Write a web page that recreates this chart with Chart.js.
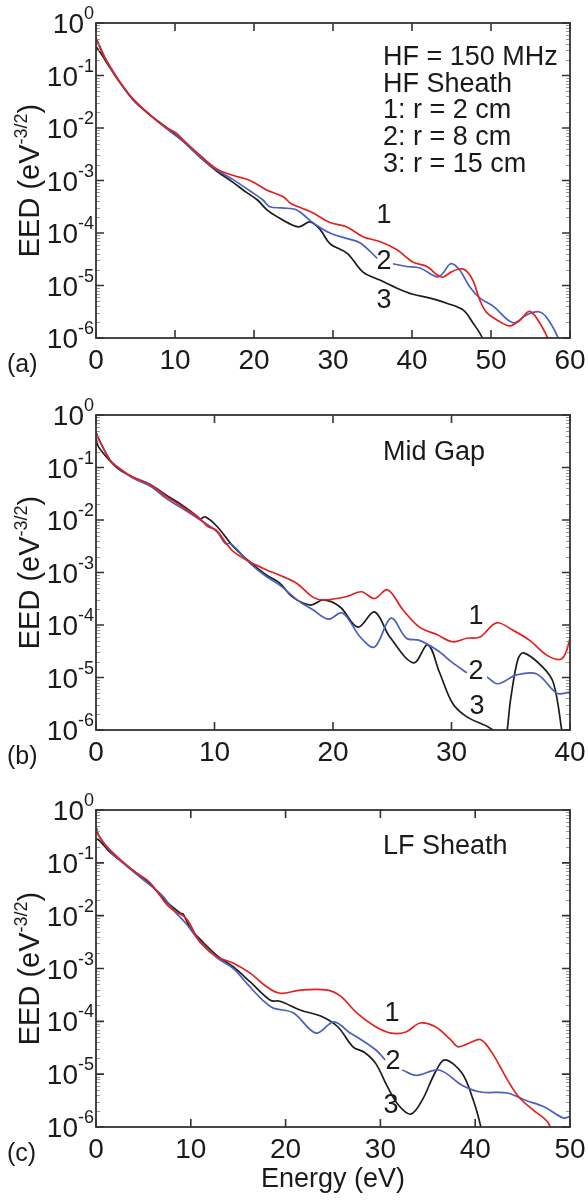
<!DOCTYPE html>
<html><head><meta charset="utf-8">
<script src="https://cdn.jsdelivr.net/npm/chart.js@4.4.0/dist/chart.umd.min.js"></script>
<style>
body{margin:0;background:#fff;width:588px;height:1200px;position:relative;overflow:hidden}
canvas{position:absolute;left:0}
</style>
</head><body>
<canvas id="ca" width="588" height="400" style="top:0px"></canvas>
<canvas id="cb" width="588" height="410" style="top:390px"></canvas>
<canvas id="cc" width="588" height="410" style="top:790px"></canvas>
<script>
// ---------- tick labels ----------
const xTicksA = [0, 10, 20, 30, 40, 50, 60];
const xTicksB = [0, 10, 20, 30, 40];
const xTicksC = [0, 10, 20, 30, 40, 50];
const yExponents = [0, -1, -2, -3, -4, -5, -6];

// ---------- panel (a): HF sheath ----------
const aRedE = [0,0.5,1,1.8,3,4.7,6.8,9,10.2,11,13.2,15.3,17.3,19.5,21.6,23.7,24.6,26,27.5,29.6,31.7,33.8,36,38.1,40.1,41.9,43.2,43.9,44.8,45.8,46.7,47.7,48.6,49.5,51.5,52.4,53.7,54.7,55.3,56.2,57.1,57.6];
const aRedV = [5.25e-1,3.55e-1,2.4e-1,1.45e-1,7.6e-2,3.55e-2,1.78e-2,1.0e-2,7.9e-3,6.0e-3,3.0e-3,1.66e-3,1.26e-3,1.0e-3,6.6e-4,4.9e-4,3.7e-4,3.0e-4,2.4e-4,1.58e-4,1.32e-4,8.5e-5,6.8e-5,4.8e-5,2.8e-5,2.3e-5,1.58e-5,1.45e-5,1.74e-5,2.04e-5,2.0e-5,1.26e-5,5.2e-6,3.0e-6,1.9e-6,1.7e-6,2.2e-6,3.16e-6,2.95e-6,1.9e-6,1.05e-6,5e-7];
const aBlueE = [0,0.5,1,1.8,3,4.7,6.8,9,11,13.2,15.3,17.3,19.5,21.1,22,23.5,25.4,27.5,29.6,31.7,33.4,35.6,36.5,37.6,39.3,41,43.2,43.9,44.9,46,47.3,48.6,50.3,52.8,54.5,56,57,58.5,59];
const aBlueV = [5.0e-1,3.4e-1,2.35e-1,1.45e-1,7.6e-2,3.4e-2,1.78e-2,9.5e-3,5.6e-3,2.8e-3,1.58e-3,1.05e-3,6.3e-4,4.3e-4,3.16e-4,3.0e-4,2.75e-4,1.55e-4,1.0e-4,7.9e-5,6.5e-5,3.3e-5,null,2.6e-5,2.3e-5,2.15e-5,1.45e-5,1.7e-5,2.6e-5,2.0e-5,9.5e-6,5.75e-6,4.0e-6,1.95e-6,2.75e-6,3.16e-6,2.5e-6,1.0e-6,5e-7];
const aBlackE = [0,0.5,1,1.8,3,4.7,6.8,9,11,13.2,15.3,17.3,19,20.4,21.6,22.9,24.9,25.8,27.1,28.4,29.6,31.8,33.8,36,38.1,40.1,42.3,44.4,46.5,47.7,48.9,49.3];
const aBlackV = [3.55e-1,2.8e-1,2.15e-1,1.38e-1,7.4e-2,3.5e-2,1.8e-2,1.0e-2,5.6e-3,2.75e-3,1.5e-3,9.3e-4,6.0e-4,4.3e-4,2.8e-4,2.05e-4,1.4e-4,1.32e-4,1.62e-4,1.15e-4,6.3e-5,4.1e-5,1.8e-5,1.26e-5,8.9e-6,6.8e-6,5.75e-6,4.6e-6,3.4e-6,1.95e-6,1.0e-6,5e-7];

// ---------- panel (b): mid gap ----------
const bRedE = [0,0.3,1.2,2,3.1,4.6,5.3,6,7.3,8.8,9.4,10.2,11,11.6,13,14.4,15.5,16.9,18.3,19.2,21.2,22.4,23.5,24.6,25.9,27.3,28.8,30.1,31.3,32.4,33.8,35.2,36.6,38,39.1,39.6,40];
const bRedV = [4.6e-1,3.2e-1,1.38e-1,9.5e-2,6.6e-2,4.7e-2,3.6e-2,2.75e-2,1.78e-2,1.05e-2,7.6e-3,6.3e-3,3.55e-3,2.5e-3,1.58e-3,1.12e-3,8.9e-4,6.3e-4,3.4e-4,3.0e-4,3.5e-4,4.3e-4,3.2e-4,4.7e-4,1.95e-4,9.1e-5,6.5e-5,4.8e-5,5.6e-5,5.9e-5,1.1e-4,7.9e-5,5.1e-5,2.7e-5,2.2e-5,2.8e-5,5.6e-5];
const bBlueE = [0,0.3,1.2,2,3.1,4.6,6,7.3,8.8,10.2,10.9,11.4,13,14.4,15.5,17.2,18.3,19.6,20.8,22.3,23.5,24.9,26.2,27.3,28.8,30.1,31.3,32,33,33.9,35.5,37.2,38.9,40];
const bBlueV = [4.8e-1,3.3e-1,1.38e-1,9.5e-2,6.3e-2,4.4e-2,2.5e-2,1.66e-2,1.0e-2,6.0e-3,3.6e-3,3.5e-3,1.5e-3,8.3e-4,5.75e-4,2.75e-4,1.95e-4,1.29e-4,1.7e-4,5.9e-5,3.8e-5,1.35e-4,5.6e-5,5.1e-5,3.3e-5,1.9e-5,1.23e-5,null,1.02e-5,7.6e-6,1.12e-5,1.17e-5,5.0e-6,5.25e-6];
const bBlackE = [0,0.2,1.2,2,3.1,4.6,6,7.3,8.5,8.8,9.2,10.2,11.6,13,14.4,15.5,16.6,18.1,19.2,20.6,22.1,23.5,24.8,26.8,28,29,30.1,31.3,33.5,34.4,35,35.6,36.1,37.7,38.6,39.3,39.5];
const bBlackV = [3.6e-1,2.5e-1,1.32e-1,9.0e-2,6.6e-2,4.7e-2,2.9e-2,1.9e-2,1.2e-2,1.05e-2,1.15e-2,7.6e-3,3.1e-3,1.58e-3,8.9e-4,6.3e-4,3.4e-4,2.4e-4,3.0e-4,2.2e-4,9.1e-5,1.78e-4,5.9e-5,1.9e-5,4.2e-5,1.23e-5,3.2e-6,1.78e-6,1.0e-6,5e-7,4.0e-6,2.2e-5,2.95e-5,1.58e-5,7.9e-6,1.0e-6,4e-7];

// ---------- panel (c): LF sheath ----------
const cRedE = [0,0.3,1.5,3.9,5.7,7.5,8.2,9.5,11,12.8,14.5,16.3,18,19.4,21.6,24.4,25.8,27.5,29.5,31.1,32.7,34.2,35.8,37.4,38.2,39.4,40.6,41.8,43.4,44.6,46.1,47.7,48.3];
const cRedV = [4.6e-1,3.2e-1,1.74e-1,7.2e-2,4.2e-2,1.6e-2,1.26e-2,8.9e-3,3.16e-3,1.66e-3,1.26e-3,8.1e-4,4.5e-4,3.4e-4,3.9e-4,3.9e-4,3.0e-4,1.45e-4,7.9e-5,6.0e-5,6.3e-5,9.3e-5,7.9e-5,4.5e-5,3.3e-5,3.9e-5,4.5e-5,2.5e-5,7.8e-6,3.7e-6,2.1e-6,1.2e-6,5e-7];
const cBlueE = [0,0.3,1.5,3.9,5.7,7,8.2,9.5,11,12.8,14.5,16,17.6,18.7,20.8,23.2,25.1,26.8,27.5,29.5,30.5,31.5,32.3,33.8,36.2,38.6,40.6,43.4,45.3,47.3,49.3,50];
const cBlueV = [5.0e-1,3.3e-1,1.66e-1,6.9e-2,3.8e-2,2.4e-2,1.26e-2,7.1e-3,3.16e-3,1.58e-3,1.0e-3,5.0e-4,2.5e-4,1.78e-4,1.45e-4,6.0e-5,9.8e-5,6.0e-5,5.1e-5,2.9e-5,1.86e-5,null,1.2e-5,9.5e-6,1.2e-5,6.2e-6,4.6e-6,4.4e-6,3.2e-6,2.4e-6,1.48e-6,1.58e-6];
const cBlackE = [0,0.5,1.5,3.9,5.7,6.8,7.5,8.9,9.2,10,11,12.8,14.5,16.3,18.4,19.4,21.6,23.7,25.5,27.1,28.3,29.5,30.7,31.9,33.2,34.4,35.8,36.8,38.6,39.8,40.6,41];
const cBlackV = [2.95e-1,2.5e-1,1.58e-1,7.2e-2,4.0e-2,2.4e-2,1.78e-2,1.12e-2,1.07e-2,5.6e-3,3.55e-3,1.74e-3,1.07e-3,5.5e-4,2.5e-4,2.4e-4,1.62e-4,1.26e-4,7.9e-5,3.3e-5,2.6e-5,1.6e-5,6.0e-6,2.6e-6,1.75e-6,3.2e-6,1.1e-5,1.86e-5,1.05e-5,3.2e-6,1.0e-6,4e-7];

// ---------- styling ----------
const RED = '#e3211f', BLUE = '#4a5fbf', BLACK = '#1c1c1c';
const FONT = '"Liberation Sans", Arial, Helvetica, sans-serif';

function pts(E, V) { return E.map((e, i) => ({ x: e, y: V[i] })); }

const axesPlugin = {
  id: 'axesFrame',
  afterDatasetsDraw(chart, args, o) {
    const ctx = chart.ctx, a = chart.chartArea, xs = chart.scales.x, ys = chart.scales.y;
    ctx.save();
    // minor y ticks
    ctx.strokeStyle = '#9a9a9a'; ctx.lineWidth = 1;
    for (let d = -6; d < 0; d++) {
      for (let m = 2; m <= 9; m++) {
        const py = Math.round(ys.getPixelForValue(m * Math.pow(10, d))) + 0.5;
        ctx.beginPath();
        ctx.moveTo(a.left, py); ctx.lineTo(a.left + 4, py);
        ctx.moveTo(a.right - 4, py); ctx.lineTo(a.right, py);
        ctx.stroke();
      }
    }
    // major ticks
    ctx.strokeStyle = '#333'; ctx.lineWidth = 1.6;
    yExponents.forEach(e => {
      const py = ys.getPixelForValue(Math.pow(10, e));
      ctx.beginPath();
      ctx.moveTo(a.left, py); ctx.lineTo(a.left + 8, py);
      ctx.moveTo(a.right - 8, py); ctx.lineTo(a.right, py);
      ctx.stroke();
    });
    o.xTicks.forEach(t => {
      const px = xs.getPixelForValue(t);
      ctx.beginPath();
      ctx.moveTo(px, a.bottom); ctx.lineTo(px, a.bottom - 8);
      ctx.moveTo(px, a.top); ctx.lineTo(px, a.top + 8);
      ctx.stroke();
    });
    // frame
    ctx.lineWidth = 1.8;
    ctx.strokeRect(a.left, a.top, a.right - a.left, a.bottom - a.top);

    ctx.fillStyle = '#1a1a1a';
    // x tick labels
    ctx.font = '28px ' + FONT; ctx.textAlign = 'center'; ctx.textBaseline = 'alphabetic';
    o.xTicks.forEach(t => {
      ctx.fillText(String(t), xs.getPixelForValue(t), a.bottom + 31);
    });
    // y tick labels 10^n
    yExponents.forEach(e => {
      const py = ys.getPixelForValue(Math.pow(10, e));
      const xr = a.left - 2;
      ctx.font = '18px ' + FONT; ctx.textAlign = 'right';
      const es = String(e);
      const ew = ctx.measureText(es).width;
      ctx.fillText(es, xr, py - 4);
      ctx.font = '28px ' + FONT;
      ctx.fillText('10', xr - ew, py + 10);
    });
    // y title (rotated)
    ctx.save();
    const cy = (a.top + a.bottom) / 2;
    ctx.translate(39, cy);
    ctx.rotate(-Math.PI / 2);
    ctx.textAlign = 'left';
    const main = 'EED (eV', sup = '-3/2', close = ')';
    ctx.font = '29px ' + FONT;
    const w1 = ctx.measureText(main).width, w3 = ctx.measureText(close).width;
    ctx.font = '18px ' + FONT;
    const w2 = ctx.measureText(sup).width;
    let x0 = -(w1 + w2 + w3) / 2;
    ctx.font = '29px ' + FONT; ctx.fillText(main, x0, 0);
    ctx.font = '18px ' + FONT; ctx.fillText(sup, x0 + w1, -12);
    ctx.font = '29px ' + FONT; ctx.fillText(close, x0 + w1 + w2, 0);
    ctx.restore();
    // panel letter
    ctx.font = '25px ' + FONT; ctx.textAlign = 'left';
    ctx.fillText(o.letter, 7, a.bottom + 34);
    // annotation text
    ctx.font = '27px ' + FONT; ctx.textAlign = 'left';
    o.notes.forEach(n => ctx.fillText(n.t, n.x, n.y));
    // curve labels
    ctx.textAlign = 'center'; ctx.textBaseline = 'middle';
    o.curveLabels.forEach(n => ctx.fillText(n.t, n.x, n.y));
    ctx.textBaseline = 'alphabetic';
    if (o.xTitle) {
      ctx.textAlign = 'center';
      ctx.fillText(o.xTitle, (a.left + a.right) / 2, a.bottom + 60);
    }
    ctx.restore();
  }
};

function ds(label, data, color) {
  return { label, data, borderColor: color, borderWidth: 1.7, pointRadius: 0, tension: 0.35,
           fill: false, spanGaps: false };
}

function makeChart(id, xMax, padTop, padBottom, series, o) {
  new Chart(document.getElementById(id), {
    type: 'line',
    data: { datasets: series },
    options: {
      responsive: false, animation: false, devicePixelRatio: 1,
      layout: { padding: { left: 96, right: 18, top: padTop, bottom: padBottom } },
      scales: {
        x: { type: 'linear', min: 0, max: xMax, display: false },
        y: { type: 'logarithmic', min: 1e-6, max: 1, display: false }
      },
      plugins: { legend: { display: false }, tooltip: { enabled: false }, axesFrame: o }
    },
    plugins: [axesPlugin]
  });
}

// panel a: canvas top 0, plot 23..338
makeChart('ca', 60, 23, 62, [
  ds('1: r = 2 cm', pts(aRedE, aRedV), RED),
  ds('2: r = 8 cm', pts(aBlueE, aBlueV), BLUE),
  ds('3: r = 15 cm', pts(aBlackE, aBlackV), BLACK)
], {
  xTicks: xTicksA, letter: '(a)',
  notes: [
    { t: 'HF = 150 MHz', x: 383, y: 65 },
    { t: 'HF Sheath', x: 383, y: 92 },
    { t: '1: r = 2 cm', x: 383, y: 118 },
    { t: '2: r = 8 cm', x: 383, y: 145 },
    { t: '3: r = 15 cm', x: 383, y: 172 }
  ],
  curveLabels: [ { t: '1', x: 384, y: 216 }, { t: '2', x: 384, y: 262 }, { t: '3', x: 384, y: 301 } ]
});

// panel b: canvas top 390, plot 415..730
makeChart('cb', 40, 25, 70, [
  ds('1', pts(bRedE, bRedV), RED),
  ds('2', pts(bBlueE, bBlueV), BLUE),
  ds('3', pts(bBlackE, bBlackV), BLACK)
], {
  xTicks: xTicksB, letter: '(b)',
  notes: [ { t: 'Mid Gap', x: 383, y: 70 } ],
  curveLabels: [ { t: '1', x: 476, y: 227 }, { t: '2', x: 476, y: 282 }, { t: '3', x: 477, y: 317 } ]
});

// panel c: canvas top 790, plot 810..1127
makeChart('cc', 50, 20, 73, [
  ds('1', pts(cRedE, cRedV), RED),
  ds('2', pts(cBlueE, cBlueV), BLUE),
  ds('3', pts(cBlackE, cBlackV), BLACK)
], {
  xTicks: xTicksC, letter: '(c)', xTitle: 'Energy (eV)',
  notes: [ { t: 'LF Sheath', x: 383, y: 64 } ],
  curveLabels: [ { t: '1', x: 392, y: 224 }, { t: '2', x: 393, y: 272 }, { t: '3', x: 391, y: 316 } ]
});
</script>
</body></html>
